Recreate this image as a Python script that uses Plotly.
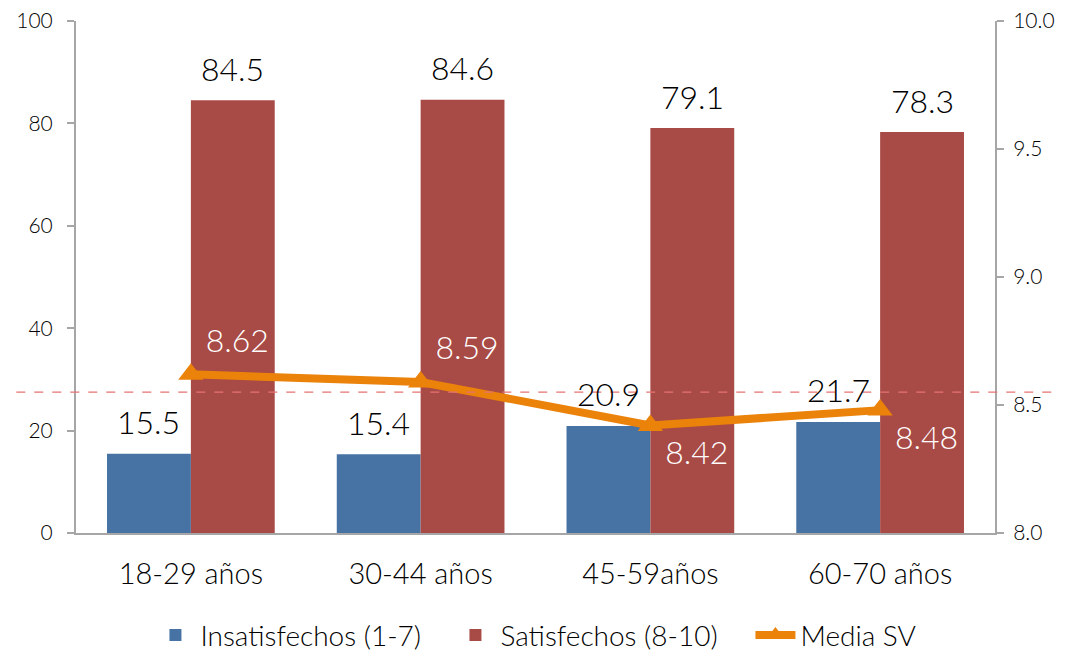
import plotly.graph_objects as go

grupos = ['18-29 años', '30-44 años', '45-59años', '60-70 años']
insatisfechos = [15.5, 15.4, 20.9, 21.7]
satisfechos = [84.5, 84.6, 79.1, 78.3]
media_sv = [8.62, 8.59, 8.42, 8.48]
media_pos = ['top right', 'top right', 'bottom right', 'bottom right']
referencia = 8.55

FONT = 'Lato'
GRAY = '#A6A6A6'

fig = go.Figure()

fig.add_trace(go.Bar(
    x=grupos, y=insatisfechos, name='Insatisfechos (1-7)',
    marker=dict(color='#4673A4', line=dict(width=0)),
))
fig.add_trace(go.Bar(
    x=grupos, y=satisfechos, name='Satisfechos (8-10)',
    marker=dict(color='#A84A45', line=dict(width=0)),
))
fig.add_trace(go.Scatter(
    x=grupos, y=media_sv, name='Media SV', yaxis='y2',
    mode='lines+markers+text',
    line=dict(color='#EB820A', width=8),
    marker=dict(symbol='triangle-up', size=22, color='#EB820A'),
    text=[f'{v:.2f}' for v in media_sv], textposition=media_pos,
    textfont=dict(family=FONT, size=32, color='#FFFFFF', weight=300), cliponaxis=False
))

# value labels above the bars (offset to each bar of the group)
for serie, shift in ((insatisfechos, -42), (satisfechos, 42)):
    for g, v in zip(grupos, serie):
        fig.add_annotation(x=g, y=v, xref='x', yref='y', text=f'{v:.1f}',
                           showarrow=False, xshift=shift, yshift=32, yanchor='middle',
                           font=dict(family=FONT, size=32, color='#000000', weight=300))

# dashed reference line on the right axis
fig.add_shape(type='line', xref='paper', yref='y2',
              x0=-0.065, x1=1.08, y0=referencia, y1=referencia,
              line=dict(color='#E57373', width=1.2, dash='dash'), layer='above')

# page body adds an 8px margin; the figure is a bit taller than the window
# so the legend box does not push the bottom margin
fig.update_layout(
    width=1060, height=667,
    margin=dict(l=68, r=73, t=13, b=142),
    paper_bgcolor='white', plot_bgcolor='white',
    barmode='group', bargap=0.27, bargroupgap=0,
    font=dict(family=FONT, size=21, color='#000000', weight=300),
    showlegend=True,
    legend=dict(orientation='h', x=0.081, xanchor='left', y=-0.2, yanchor='middle',
                font=dict(size=28, weight=300), itemwidth=40,
                entrywidth=245, entrywidthmode='pixels'),
    xaxis=dict(showline=True, linecolor=GRAY, linewidth=2, ticks='', automargin=False,
               tickfont=dict(size=29), ticklabelstandoff=14),
    yaxis=dict(range=[0, 100], dtick=20, showgrid=False, zeroline=False, automargin=False,
               showline=True, linecolor=GRAY, linewidth=2, ticklabelstandoff=10,
               ticklabeloverflow='allow',
               ticks='outside', ticklen=7, tickcolor=GRAY, tickwidth=1.5),
    yaxis2=dict(range=[8, 10], dtick=0.5, tickformat='.1f', overlaying='y', side='right',
                showgrid=False, zeroline=False, automargin=False,
                showline=True, linecolor=GRAY, linewidth=2, ticklabelstandoff=5,
                ticklabeloverflow='allow',
                ticks='outside', ticklen=7, tickcolor=GRAY, tickwidth=1.5),
)

fig.write_html('out.html')
